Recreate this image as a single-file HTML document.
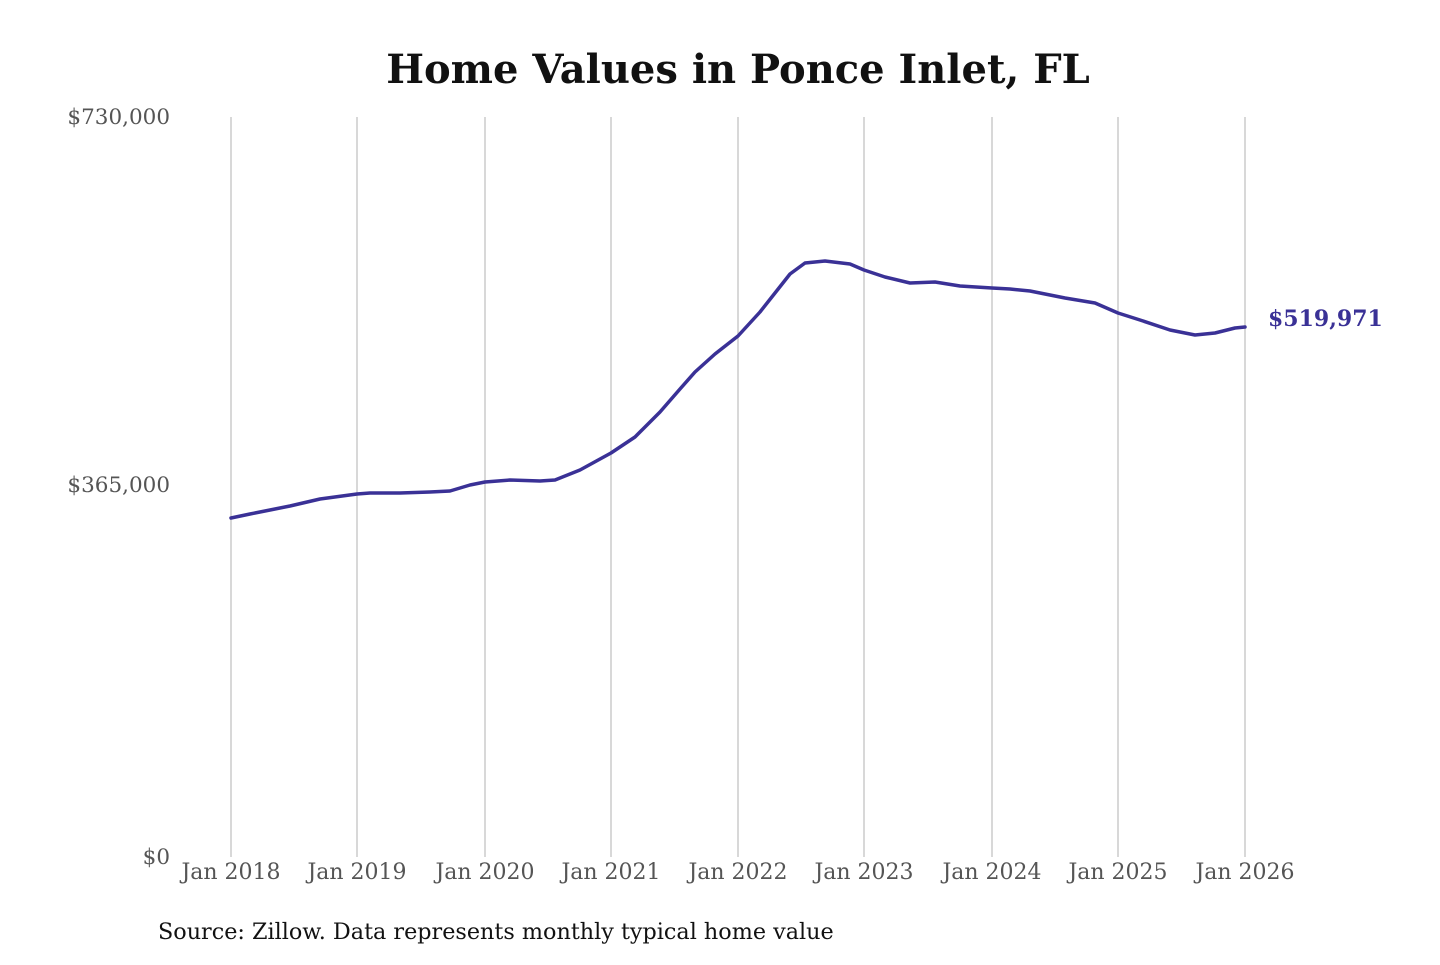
<!DOCTYPE html>
<html><head><meta charset="utf-8"><style>
html,body{margin:0;padding:0;background:#fff;}
</style></head><body>
<svg width="1440" height="960" xmlns="http://www.w3.org/2000/svg" font-family="'DejaVu Serif','Liberation Serif',serif">
<rect width="1440" height="960" fill="#fff"/>
<text x="738" y="83" text-anchor="middle" font-size="40" font-weight="bold" fill="#111">Home Values in Ponce Inlet, FL</text>
<g stroke="#c4c4c4" stroke-width="1.3">
<line x1="231" y1="117" x2="231" y2="857"/>
<line x1="357" y1="117" x2="357" y2="857"/>
<line x1="485" y1="117" x2="485" y2="857"/>
<line x1="611" y1="117" x2="611" y2="857"/>
<line x1="738" y1="117" x2="738" y2="857"/>
<line x1="864" y1="117" x2="864" y2="857"/>
<line x1="992" y1="117" x2="992" y2="857"/>
<line x1="1118" y1="117" x2="1118" y2="857"/>
<line x1="1245" y1="117" x2="1245" y2="857"/>
</g>
<g font-size="21.5" fill="#555" text-anchor="end">
<text x="170" y="124">$730,000</text>
<text x="170" y="492">$365,000</text>
<text x="170" y="864">$0</text>
</g>
<g font-size="22" fill="#555" text-anchor="middle">
<text x="231" y="879">Jan 2018</text>
<text x="357" y="879">Jan 2019</text>
<text x="485" y="879">Jan 2020</text>
<text x="611" y="879">Jan 2021</text>
<text x="738" y="879">Jan 2022</text>
<text x="864" y="879">Jan 2023</text>
<text x="992" y="879">Jan 2024</text>
<text x="1118" y="879">Jan 2025</text>
<text x="1245" y="879">Jan 2026</text>
</g>
<polyline fill="none" stroke="#3a3196" stroke-width="3.5" stroke-linejoin="round" stroke-linecap="round"
points="231,518 250,514 270,510 290,506 320,499 357,494 370,493 400,493 430,492 450,491 470,485 485,482 510,480 540,481 555,480 580,470 611,453 635,437 660,412 680,389 695,372 715,354 738,336 760,312 775,293 790,274 805,263 825,261 850,264 864,270 885,277 910,283 935,282 960,286 992,288 1010,289 1030,291 1065,298 1095,303 1118,313 1140,320 1170,330 1195,335 1215,333 1235,328 1245,327"/>
<text x="1268" y="326" font-size="22" font-weight="bold" fill="#3a3196">$519,971</text>
<text x="158" y="939" font-size="22.3" fill="#111">Source: Zillow. Data represents monthly typical home value</text>
</svg>
</body></html>
